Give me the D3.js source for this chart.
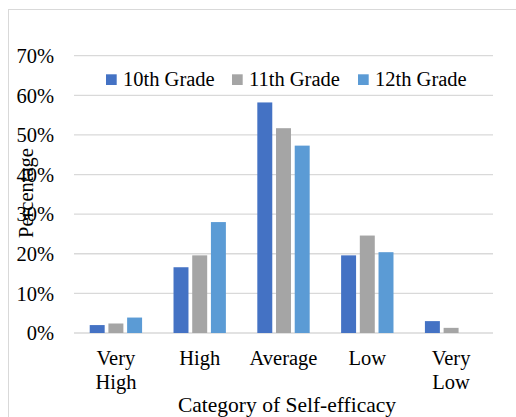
<!DOCTYPE html>
<html><head><meta charset="utf-8">
<script src="https://cdn.jsdelivr.net/npm/d3@7"></script>
<style>body{margin:0;background:#fff}svg{display:block}text{font-family:"Liberation Serif","Times New Roman",serif;fill:#000}</style>
</head><body><svg id="c" width="516" height="417"></svg>
<script>
const categories = [["Very","High"],["High"],["Average"],["Low"],["Very","Low"]];
const seriesNames = ["10th Grade","11th Grade","12th Grade"];
const grade10 = [2.0, 16.6, 58.2, 19.6, 3.0];
const grade11 = [2.4, 19.6, 51.7, 24.6, 1.3];
const grade12 = [3.9, 28.0, 47.3, 20.4, 0];
const yTicks = [0,10,20,30,40,50,60,70];
const colors = ["#4472C4","#A5A5A5","#5B9BD5"];
const series = [grade10, grade11, grade12];
const FS = 20.5;

const svg = d3.select("#c");
svg.append("rect").attr("x",8.5).attr("y",9.5).attr("width",520).attr("height",420)
  .attr("fill","#fff").attr("stroke","#d9d9d9").attr("stroke-width",1);

const L=74, R=493, T=55.7, B=333;
const catKeys = categories.map(d=>d.join(" "));
const x0 = d3.scaleBand().domain(catKeys).range([L,R]).paddingInner(0.375).paddingOuter(0.1875);
const x1 = d3.scaleBand().domain(seriesNames).range([0,x0.bandwidth()]).paddingInner(0.2).paddingOuter(0);
const y = d3.scaleLinear().domain([0,70]).range([B,T]);

svg.append("g").selectAll("line").data(yTicks).join("line")
  .attr("x1",L).attr("x2",R).attr("y1",d=>y(d)).attr("y2",d=>y(d))
  .attr("stroke","#d9d9d9").attr("stroke-width",1.3);

svg.append("g").selectAll("text").data(yTicks).join("text")
  .attr("x",54).attr("y",d=>y(d)+7.3).attr("text-anchor","end")
  .attr("font-size",FS).text(d=>d+"%");

series.forEach((s,si)=>{
  svg.append("g").selectAll("rect").data(s).join("rect")
    .attr("x",(d,i)=>x0(catKeys[i])+x1(seriesNames[si]))
    .attr("width",x1.bandwidth())
    .attr("y",d=>y(d)).attr("height",d=>B-y(d))
    .attr("fill",colors[si]);
});

const xl = svg.append("g");
categories.forEach((c,i)=>{
  const cx = x0(catKeys[i]) + x0.bandwidth()/2;
  c.forEach((line,j)=>{
    xl.append("text").attr("x",cx).attr("y",365+j*23.5).attr("text-anchor","middle")
      .attr("font-size",FS).text(line);
  });
});

svg.append("text").attr("x",287).attr("y",412).attr("text-anchor","middle").attr("font-size",21.5)
  .text("Category of Self-efficacy");
svg.append("text").attr("transform","translate(33,193) rotate(-90)").attr("text-anchor","middle")
  .attr("font-size",FS).text("Percentage");

const legX = [106, 232, 358];
seriesNames.forEach((n,i)=>{
  svg.append("rect").attr("x",legX[i]).attr("y",74.3).attr("width",10.7).attr("height",10.7).attr("fill",colors[i]);
  svg.append("text").attr("x",legX[i]+17).attr("y",86).attr("font-size",FS).text(n);
});
</script></body></html>
